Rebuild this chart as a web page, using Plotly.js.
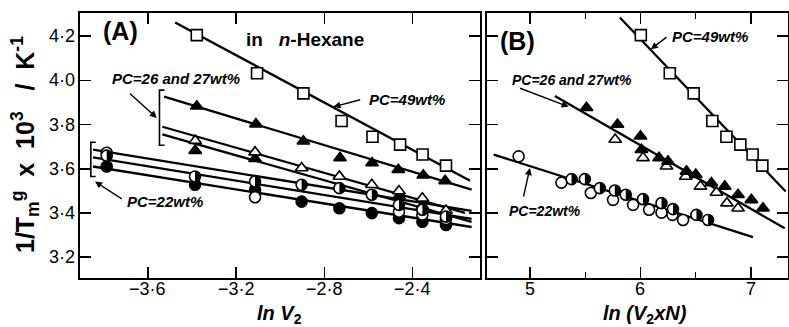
<!DOCTYPE html>
<html><head><meta charset="utf-8">
<script src="https://cdn.plot.ly/plotly-3.0.1.min.js"></script>
<style>html,body{margin:0;padding:0;background:#fff}#c{width:789px;height:327px}</style>
</head><body><div id="c"></div>
<script>
// ---------- Panel A : 1/Tm x 10^3 vs ln V2 ----------
const aSqX   = [-3.378, -3.105, -2.895, -2.722, -2.582, -2.457, -2.355, -2.249];
const aSqY   = [4.205, 4.032, 3.941, 3.816, 3.745, 3.709, 3.664, 3.614];
const aTri1X = [-3.378, -3.110, -2.895, -2.729, -2.584, -2.465, -2.352, -2.253];
const aTri1Y = [3.883, 3.802, 3.724, 3.649, 3.626, 3.595, 3.570, 3.545];
const aTriOX = [-3.385, -3.114, -2.903, -2.732, -2.585, -2.462, -2.356, -2.249];
const aTriOY = [3.727, 3.675, 3.603, 3.565, 3.527, 3.499, 3.466, 3.411];
const aTriFX = [-3.385, -3.114, -2.462, -2.356];
const aTriFY = [3.682, 3.645, 3.476, 3.431];
const aCirX  = [-3.786, -3.386, -3.114, -2.903, -2.732, -2.585, -2.462, -2.356, -2.249];
const aHalfY = [3.659, 3.565, 3.542, 3.527, 3.512, 3.482, 3.436, 3.414, 3.383];
const aFillY = [3.610, 3.527, 3.505, 3.451, 3.421, 3.399, 3.376, 3.360, 3.345];
const aOpenX = [-3.786, -3.114, -2.462, -2.356, -2.249];
const aOpenY = [3.672, 3.471, 3.405, 3.392, 3.372];
// fitted lines (start / end)
const aLineSq  = {x: [-3.476, -2.140], y: [4.262, 3.545]};
const aLineT1  = {x: [-3.526, -2.133], y: [3.926, 3.505]};
const aLineT2  = {x: [-3.534, -2.163], y: [3.790, 3.400]};
const aLineT3  = {x: [-3.534, -2.133], y: [3.755, 3.359]};
const aLineC1  = {x: [-3.848, -2.133], y: [3.686, 3.409]};
const aLineC2  = {x: [-3.848, -2.133], y: [3.651, 3.373]};
const aLineC3  = {x: [-3.848, -2.133], y: [3.610, 3.336]};

// ---------- Panel B : 1/Tm x 10^3 vs ln (V2 x N) ----------
const bSqX   = [6.003, 6.265, 6.481, 6.650, 6.777, 6.903, 7.014, 7.102];
const bSqY   = [4.205, 4.032, 3.941, 3.816, 3.745, 3.709, 3.664, 3.614];
const bTriFX = [5.512, 5.792, 6.000, 6.009, 6.168, 6.249, 6.416, 6.500, 6.641, 6.762, 6.882, 7.003, 7.108];
const bTriFY = [3.876, 3.800, 3.747, 3.686, 3.649, 3.633, 3.588, 3.573, 3.535, 3.520, 3.482, 3.459, 3.421];
const bTriOX = [5.771, 6.023, 6.235, 6.409, 6.542, 6.687, 6.782, 6.882];
const bTriOY = [3.732, 3.649, 3.611, 3.565, 3.520, 3.492, 3.444, 3.421];
const bOpenX = [4.898, 5.285, 5.551, 5.752, 5.933, 6.078, 6.190, 6.289, 6.385];
const bOpenY = [3.656, 3.537, 3.490, 3.459, 3.436, 3.414, 3.401, 3.391, 3.368];
const bHalfX = [5.377, 5.497, 5.632, 5.768, 5.867, 6.023, 6.190, 6.294, 6.506, 6.611];
const bHalfY = [3.553, 3.553, 3.512, 3.501, 3.482, 3.462, 3.444, 3.417, 3.391, 3.368];
const bLineSq  = {x: [5.813, 7.313], y: [4.285, 3.497]};
const bLineTri = {x: [5.226, 7.304], y: [3.929, 3.330]};
const bLineCir = {x: [4.672, 7.017], y: [3.664, 3.290]};

// ticks
const yTicks = [3.2, 3.4, 3.6, 3.8, 4.0, 4.2];
const yTickText = ['3·2', '3·4', '3·6', '3·8', '4·0', '4·2'];
const xaTicks = [-3.6, -3.2, -2.8, -2.4];
const xaTickText = ['−3·6', '−3·2', '−2·8', '−2·4'];
const xbTicks = [5, 6, 7];
const xbTickText = ['5', '6', '7'];

const MS = 11;
function line(l, xa, ya) {
  return {x: l.x, y: l.y, xaxis: xa, yaxis: ya, mode: 'lines', line: {color: '#000', width: 2.3}, hoverinfo: 'skip', showlegend: false};
}
function pts(x, y, xa, ya, sym, fill) {
  return {x: x, y: y, xaxis: xa, yaxis: ya, mode: 'markers', showlegend: false,
    marker: {symbol: sym, size: MS, color: fill, line: {color: '#000', width: 1.6}}};
}
const traces = [
  line(aLineSq, 'x', 'y'), line(aLineT1, 'x', 'y'), line(aLineT2, 'x', 'y'), line(aLineT3, 'x', 'y'),
  line(aLineC1, 'x', 'y'), line(aLineC2, 'x', 'y'), line(aLineC3, 'x', 'y'),
  pts(aSqX, aSqY, 'x', 'y', 'square', '#fff'),
  pts(aTri1X, aTri1Y, 'x', 'y', 'triangle-up', '#000'),
  pts(aTriFX, aTriFY, 'x', 'y', 'triangle-up', '#000'),
  pts(aTriOX, aTriOY, 'x', 'y', 'triangle-up', '#fff'),
  pts(aCirX, aFillY, 'x', 'y', 'circle', '#000'),
  pts(aOpenX, aOpenY, 'x', 'y', 'circle', '#fff'),
  pts(aCirX, aHalfY, 'x', 'y', 'circle', '#fff'),
  line(bLineSq, 'x2', 'y2'), line(bLineTri, 'x2', 'y2'), line(bLineCir, 'x2', 'y2'),
  pts(bSqX, bSqY, 'x2', 'y2', 'square', '#fff'),
  pts(bTriOX, bTriOY, 'x2', 'y2', 'triangle-up', '#fff'),
  pts(bTriFX, bTriFY, 'x2', 'y2', 'triangle-up', '#000'),
  pts(bOpenX, bOpenY, 'x2', 'y2', 'circle', '#fff'),
  pts(bHalfX, bHalfY, 'x2', 'y2', 'circle', '#fff')
];

// half-filled circles: right half black, drawn in pixel units anchored on data points
const r = 5.2, k = 0.5523 * r;
const halfPath = `M0,${r} C${k},${r} ${r},${k} ${r},0 C${r},${-k} ${k},${-r} 0,${-r} Z`;
const shapes = [];
function halves(x, y, xr, yr) {
  x.forEach((v, i) => shapes.push({type: 'path', xref: xr, yref: yr, xsizemode: 'pixel', ysizemode: 'pixel',
    xanchor: v, yanchor: y[i], path: halfPath, fillcolor: '#000', line: {width: 0}, layer: 'above'}));
}
halves(aCirX, aHalfY, 'x', 'y');
halves(bHalfX, bHalfY, 'x2', 'y2');
// brackets
function bracket(x, x2, y0, y1, xr, yr) {
  shapes.push({type: 'path', xref: xr, yref: yr, path: `M${x2},${y0} L${x},${y0} L${x},${y1} L${x2},${y1}`, line: {color: '#000', width: 1.6}});
}
bracket(-3.858, -3.836, 3.720, 3.565, 'x', 'y');
bracket(-3.547, -3.524, 3.956, 3.706, 'x', 'y');

const tf = {family: 'Liberation Sans, Arial', size: 18, color: '#000'};
function yax() {
  return {domain: [0.1498, 0.9602], range: [3.105, 4.305], tickvals: yTicks, showticklabels: false,
    ticks: 'inside', ticklen: 11, tickwidth: 1.6, tickcolor: '#000', mirror: 'ticks', showline: true, linewidth: 2,
    linecolor: '#000', showgrid: false, zeroline: false, fixedrange: true};
}
const ann = [];
function txt(t, x, y, xr, yr, f, anchor) {
  ann.push({text: t, x: x, y: y, xref: xr, yref: yr, showarrow: false, xanchor: anchor || 'left', yanchor: 'middle', font: f});
}
function arr(x, y, ax, ay, xr, yr) {
  ann.push({text: '', x: x, y: y, ax: ax, ay: ay, xref: xr, yref: yr, axref: xr, ayref: yr, showarrow: true,
    arrowhead: 2, arrowsize: 1, arrowwidth: 1.4, arrowcolor: '#000'});
}
// tick labels, placed on the axes' own scales
yTicks.forEach((v, i) => ann.push({text: yTickText[i], x: 77 / 789, y: v, xref: 'paper', yref: 'y', showarrow: false,
  xanchor: 'right', yanchor: 'middle', font: tf}));
xaTicks.forEach((v, i) => ann.push({text: xaTickText[i], x: v, y: 1 - 289 / 327, xref: 'x', yref: 'paper', showarrow: false,
  xanchor: 'center', yanchor: 'middle', font: tf}));
xbTicks.forEach((v, i) => ann.push({text: xbTickText[i], x: v, y: 1 - 289 / 327, xref: 'x2', yref: 'paper', showarrow: false,
  xanchor: 'center', yanchor: 'middle', font: tf}));

const itf = {family: 'Liberation Sans, Arial', size: 15, color: '#000', weight: 'bold', style: 'italic'};
txt('PC=26 and 27wt%', -3.771, 4.009, 'x', 'y', itf);
txt('PC=49wt%', -2.608, 3.914, 'x', 'y', itf);
txt('PC=22wt%', -3.703, 3.451, 'x', 'y', itf);
txt('in   <i>n</i>-Hexane', -3.165, 4.186, 'x', 'y', {family: 'Liberation Sans, Arial', size: 19, color: '#000', weight: 'bold'});
txt('(A)', 120 / 789, 1 - 31.5 / 327, 'paper', 'paper', {family: 'Liberation Sans, Arial', size: 25, color: '#000', weight: 'bold'}, 'center');
txt('(B)', 517.5 / 789, 1 - 41.5 / 327, 'paper', 'paper', {family: 'Liberation Sans, Arial', size: 25, color: '#000', weight: 'bold'}, 'center');
txt('PC=49wt%', 6.265, 4.198, 'x2', 'y2', itf);
txt('PC=26 and 27wt%', 4.819, 4.0, 'x2', 'y2', {...itf, size: 14});
txt('PC=22wt%', 4.789, 3.409, 'x2', 'y2', {...itf, size: 14});
arr(-2.759, 3.880, -2.631, 3.914, 'x', 'y');
arr(-3.559, 3.830, -3.688, 3.947, 'x', 'y');
arr(-3.839, 3.542, -3.711, 3.459, 'x', 'y');
arr(6.093, 4.141, 6.249, 4.201, 'x2', 'y2');
arr(5.350, 3.880, 4.898, 3.967, 'x2', 'y2');
arr(5.0, 3.603, 4.939, 3.467, 'x2', 'y2');
// axis titles
const titleF = {family: 'Liberation Sans, Arial', size: 25, color: '#000', weight: 'bold'};
ann.push({text: '1/T<sub>m</sub><sup>g</sup>  x  10<sup>3</sup>   /  K<sup>-1</sup>', textangle: -90, x: 25 / 789, y: 1 - 145 / 327,
  xref: 'paper', yref: 'paper', showarrow: false, xanchor: 'center', yanchor: 'middle', font: titleF});
const xtF = {family: 'Liberation Sans, Arial', size: 20, color: '#000', weight: 'bold'};
ann.push({text: '<i>ln V</i><sub>2</sub>', x: 279 / 789, y: 1 - 314 / 327, xref: 'paper', yref: 'paper', showarrow: false,
  xanchor: 'center', yanchor: 'middle', font: xtF});
ann.push({text: '<i>ln (V</i><sub>2</sub><i>xN)</i>', x: 645 / 789, y: 1 - 314 / 327, xref: 'paper', yref: 'paper', showarrow: false,
  xanchor: 'center', yanchor: 'middle', font: xtF});

const xCommon = {ticks: 'inside', ticklen: 11, tickwidth: 1.6, tickcolor: '#000', mirror: 'ticks', showline: true, linewidth: 2,
  linecolor: '#000', showgrid: false, zeroline: false, showticklabels: false, fixedrange: true};
const layout = {
  width: 789, height: 327, margin: {l: 0, r: 0, t: 0, b: 0}, paper_bgcolor: '#fff', plot_bgcolor: '#fff', showlegend: false,
  xaxis: Object.assign({domain: [80 / 789, 480 / 789], range: [-3.907, -2.095], tickvals: xaTicks, anchor: 'y'}, xCommon),
  xaxis2: Object.assign({domain: [487 / 789, 788 / 789], range: [4.612, 7.334], tickvals: xbTicks, anchor: 'y2',
    minor: {dtick: 0.5, tick0: 0, ticks: 'inside', ticklen: 6, tickwidth: 1.4, tickcolor: '#000'}}, xCommon),
  yaxis: Object.assign(yax(), {anchor: 'x'}),
  yaxis2: Object.assign(yax(), {anchor: 'x2'}),
  shapes: shapes, annotations: ann
};
Plotly.newPlot('c', traces, layout, {displayModeBar: false, staticPlot: true});
</script></body></html>
